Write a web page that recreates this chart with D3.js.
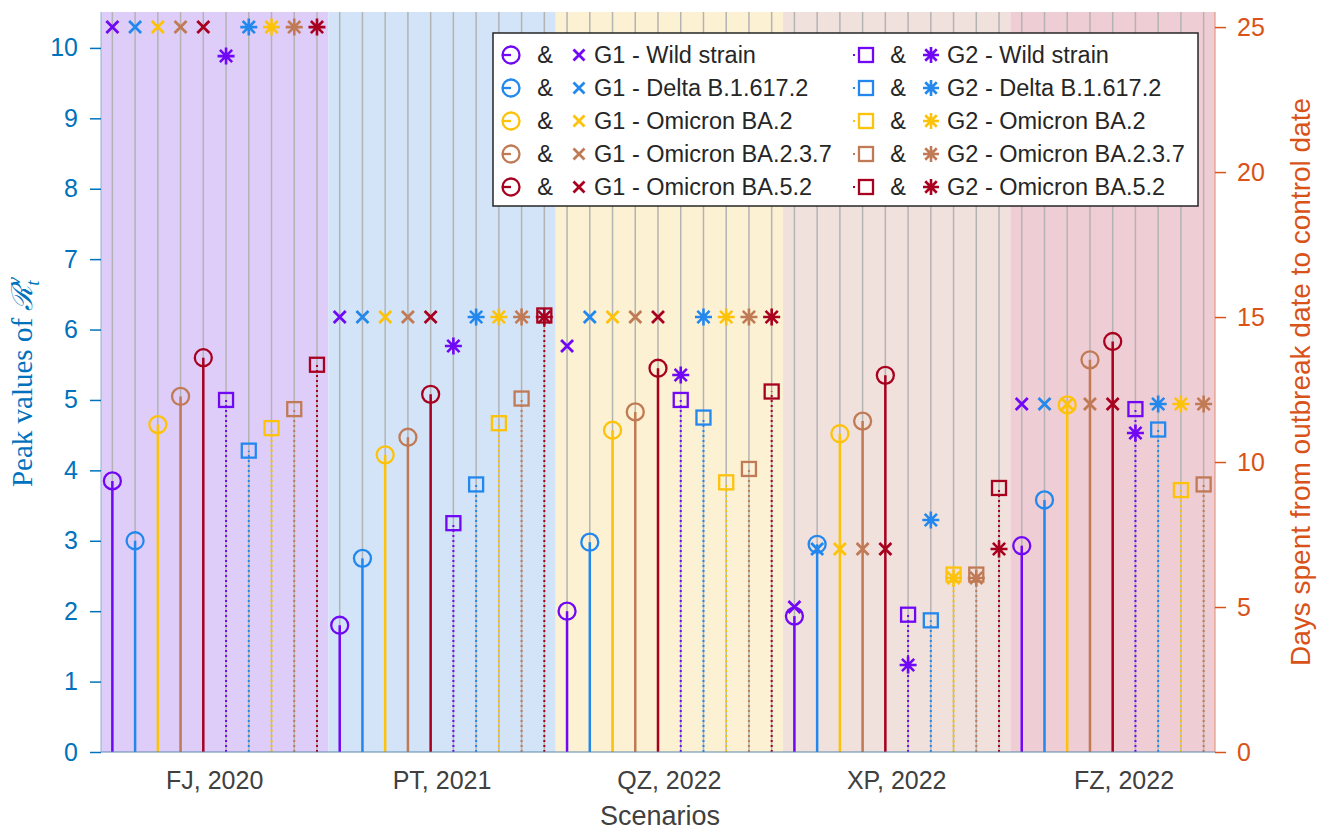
<!DOCTYPE html>
<html lang="en">
  <head>
    <meta charset="UTF-8" />
    <title>Peak values and days to control</title>
    <style>
      body {
        margin: 0;
        background: #fff;
        font-family: "Liberation Sans", Arial, Helvetica, sans-serif;
      }
      svg {
        display: block;
      }
    </style>
  </head>
  <body>
    <script src="https://cdn.jsdelivr.net/npm/d3@7"></script>
    <script>
      // scenarios (groups of 10 stems: 5 G1 + 5 G2)
      var scenarios = ["FJ, 2020", "PT, 2021", "QZ, 2022", "XP, 2022", "FZ, 2022"];
      var variants = ["Wild strain", "Delta B.1.617.2", "Omicron BA.2", "Omicron BA.2.3.7", "Omicron BA.5.2"];

      // peak values of R_t^v (left axis), one row per scenario, one column per variant
      var peakG1 = [
        [3.85, 3.0, 4.65, 5.05, 5.6],
        [1.8, 2.75, 4.22, 4.47, 5.08],
        [2.0, 2.98, 4.57, 4.83, 5.45],
        [1.93, 2.95, 4.52, 4.7, 5.35],
        [2.93, 3.58, 4.93, 5.57, 5.83]
      ];
      var peakG2 = [
        [5.0, 4.28, 4.6, 4.87, 5.5],
        [3.25, 3.8, 4.67, 5.02, 6.2],
        [5.0, 4.75, 3.83, 4.02, 5.12],
        [1.95, 1.87, 2.52, 2.52, 3.75],
        [4.87, 4.58, 3.72, 3.8, null]
      ];

      // days from outbreak date to control date (right axis)
      var daysG1 = [
        [25, 25, 25, 25, 25],
        [15, 15, 15, 15, 15],
        [14, 15, 15, 15, 15],
        [5, 7, 7, 7, 7],
        [12, 12, 12, 12, 12]
      ];
      var daysG2 = [
        [24, 25, 25, 25, 25],
        [14, 15, 15, 15, 15],
        [13, 15, 15, 15, 15],
        [3, 8, 6, 6, 7],
        [11, 12, 12, 12, null]
      ];

      var leftTicks = [0, 1, 2, 3, 4, 5, 6, 7, 8, 9, 10];
      var rightTicks = [0, 5, 10, 15, 20, 25];

      var colors = ["#7108f5", "#2388ee", "#fdc20a", "#c07a55", "#a8001f"];
      var shades = ["#dfcdf9", "#d3e4f8", "#fcf1d2", "#f1e1dc", "#efcdd4"];
      var leftColor = "#0072bd";
      var rightColor = "#d95319";

      var W = 1327, H = 833;
      var plot = { left: 101, right: 1215, top: 12, bottom: 752 };

      var svg = d3.select("body").append("svg").attr("width", W).attr("height", H);

      var x = d3.scaleLinear().domain([0.5, 49.5]).range([plot.left, plot.right]);
      var yL = d3.scaleLinear().domain([0, 10.51]).range([plot.bottom, plot.top]);
      var yR = d3.scaleLinear().domain([0, 25.52]).range([plot.bottom, plot.top]);

      svg.append("clipPath").attr("id", "clip")
        .append("rect")
        .attr("x", plot.left).attr("y", plot.top - 20)
        .attr("width", plot.right - plot.left).attr("height", plot.bottom - plot.top + 20);

      var g = svg.append("g").attr("clip-path", "url(#clip)");

      // background bands per scenario
      g.selectAll("rect.band").data(scenarios).enter().append("rect")
        .attr("class", "band")
        .attr("x", function(d, i) { return x(i * 10 + 0.5); })
        .attr("width", x(10.5) - x(0.5))
        .attr("y", plot.top)
        .attr("height", plot.bottom - plot.top)
        .attr("fill", function(d, i) { return shades[i]; });

      // build flat list of stems
      var stems = [];
      scenarios.forEach(function(s, si) {
        variants.forEach(function(v, vi) {
          stems.push({ k: si * 10 + vi + 1, grp: 1, v: vi, peak: peakG1[si][vi], days: daysG1[si][vi] });
          stems.push({ k: si * 10 + 5 + vi + 1, grp: 2, v: vi, peak: peakG2[si][vi], days: daysG2[si][vi] });
        });
      });

      // vertical grid lines
      g.selectAll("line.grid").data(d3.range(1, 50)).enter().append("line")
        .attr("x1", function(d) { return x(d); })
        .attr("x2", function(d) { return x(d); })
        .attr("y1", plot.top).attr("y2", plot.bottom)
        .attr("stroke", "#b3b3b3").attr("stroke-width", 1.5);

      var shown = stems.filter(function(d) { return d.peak != null; });

      // stems
      g.selectAll("line.stem").data(shown).enter().append("line")
        .attr("x1", function(d) { return x(d.k); })
        .attr("x2", function(d) { return x(d.k); })
        .attr("y1", yL(0))
        .attr("y2", function(d) { return yL(d.peak); })
        .attr("stroke", function(d) { return colors[d.v]; })
        .attr("stroke-width", function(d) { return d.grp == 1 ? 2.5 : 2; })
        .attr("stroke-dasharray", function(d) { return d.grp == 1 ? null : "2,3"; });

      // G1 circles
      g.selectAll("circle.m1").data(shown.filter(function(d) { return d.grp == 1; })).enter().append("circle")
        .attr("cx", function(d) { return x(d.k); })
        .attr("cy", function(d) { return yL(d.peak); })
        .attr("r", 8.5)
        .attr("fill", "none")
        .attr("stroke", function(d) { return colors[d.v]; })
        .attr("stroke-width", 2.3);

      // G2 squares
      g.selectAll("rect.m2").data(shown.filter(function(d) { return d.grp == 2; })).enter().append("rect")
        .attr("x", function(d) { return x(d.k) - 7; })
        .attr("y", function(d) { return yL(d.peak) - 7; })
        .attr("width", 14).attr("height", 14)
        .attr("fill", "none")
        .attr("stroke", function(d) { return colors[d.v]; })
        .attr("stroke-width", 2.3);

      function crossPath(cx, cy, r) {
        return "M" + (cx - r) + "," + (cy - r) + "L" + (cx + r) + "," + (cy + r) +
          "M" + (cx - r) + "," + (cy + r) + "L" + (cx + r) + "," + (cy - r);
      }
      function starPath(cx, cy, r) {
        var d = crossPath(cx, cy, r * 0.72);
        return d + "M" + (cx - r) + "," + cy + "L" + (cx + r) + "," + cy +
          "M" + cx + "," + (cy - r) + "L" + cx + "," + (cy + r);
      }

      // days markers (right axis)
      var dayPts = stems.filter(function(d) { return d.days != null; });
      g.selectAll("path.day").data(dayPts).enter().append("path")
        .attr("d", function(d) {
          return d.grp == 1 ? crossPath(x(d.k), yR(d.days), 6) : starPath(x(d.k), yR(d.days), 8.5);
        })
        .attr("fill", "none")
        .attr("stroke", function(d) { return colors[d.v]; })
        .attr("stroke-width", function(d) { return d.grp == 1 ? 2.8 : 2.6; });

      // axes lines
      svg.append("line")
        .attr("x1", plot.left).attr("x2", plot.right)
        .attr("y1", plot.bottom).attr("y2", plot.bottom)
        .attr("stroke", "#5d86ad").attr("stroke-width", 1);

      var leftAxis = svg.append("g").attr("transform", "translate(" + plot.left + ",0)")
        .call(d3.axisLeft(yL).tickValues(leftTicks).tickSize(11).tickPadding(12).tickFormat(d3.format("d")));
      leftAxis.select(".domain").attr("stroke", "#8fb0d2").attr("stroke-width", 1)
        .attr("d", "M0," + plot.top + "V" + plot.bottom);
      leftAxis.selectAll(".tick line").attr("stroke", leftColor).attr("stroke-width", 1.5);
      leftAxis.selectAll(".tick text").attr("fill", leftColor)
        .style("font-size", "25px").style("font-family", "Liberation Sans, Arial, sans-serif");

      var rightAxis = svg.append("g").attr("transform", "translate(" + plot.right + ",0)")
        .call(d3.axisRight(yR).tickValues(rightTicks).tickSize(11).tickPadding(11).tickFormat(d3.format("d")));
      rightAxis.select(".domain").attr("stroke", "#e08a6a").attr("stroke-width", 1)
        .attr("d", "M0," + plot.top + "V" + plot.bottom);
      rightAxis.selectAll(".tick line").attr("stroke", rightColor).attr("stroke-width", 1.5);
      rightAxis.selectAll(".tick text").attr("fill", rightColor)
        .style("font-size", "25px").style("font-family", "Liberation Sans, Arial, sans-serif");

      // x tick labels at scenario centres
      svg.selectAll("text.xlab").data(scenarios).enter().append("text")
        .attr("x", function(d, i) { return x(i * 10 + 5.5); })
        .attr("y", 789)
        .attr("text-anchor", "middle")
        .attr("fill", "#404040")
        .style("font-size", "25px")
        .text(function(d) { return d; });

      svg.append("text")
        .attr("x", 660).attr("y", 825)
        .attr("text-anchor", "middle")
        .attr("fill", "#404040")
        .style("font-size", "27px")
        .text("Scenarios");

      // left label (LaTeX-like)
      var ll = svg.append("text")
        .attr("transform", "translate(32," + 382 + ") rotate(-90)")
        .attr("text-anchor", "middle")
        .attr("fill", leftColor)
        .style("font-family", "Liberation Serif, DejaVu Serif, serif")
        .style("font-size", "29px");
      ll.append("tspan").text("Peak values of ");
      ll.append("tspan").style("font-style", "italic").text("\u211B");
      ll.append("tspan").attr("dy", 7).style("font-size", "19px").style("font-style", "italic").text("t");
      ll.append("tspan").attr("dy", -19).attr("dx", -5).style("font-size", "19px").style("font-style", "italic").text("v");

      svg.append("text")
        .attr("transform", "translate(1310," + 382 + ") rotate(-90)")
        .attr("text-anchor", "middle")
        .attr("fill", rightColor)
        .style("font-size", "28px")
        .text("Days spent from outbreak date to control date");

      // legend
      var leg = svg.append("g");
      leg.append("rect")
        .attr("x", 493).attr("y", 33).attr("width", 705).attr("height", 173)
        .attr("fill", "#fff").attr("stroke", "#262626").attr("stroke-width", 1.5);

      variants.forEach(function(v, i) {
        var ry = 55 + i * 33;
        var c = colors[i];
        // column 1
        leg.append("circle").attr("cx", 511).attr("cy", ry).attr("r", 8.5)
          .attr("fill", "none").attr("stroke", c).attr("stroke-width", 2.3);
        leg.append("line").attr("x1", 502).attr("x2", 511).attr("y1", ry).attr("y2", ry)
          .attr("stroke", c).attr("stroke-width", 2.3);
        leg.append("text").attr("x", 545).attr("y", ry + 8).attr("text-anchor", "middle")
          .attr("fill", "#262626").style("font-size", "23.5px").text("&");
        leg.append("path").attr("d", crossPath(579, ry, 5.5))
          .attr("stroke", c).attr("stroke-width", 2.8).attr("fill", "none");
        leg.append("text").attr("x", 594).attr("y", ry + 8)
          .attr("fill", "#262626").style("font-size", "23.5px").text("G1 - " + v);
        // column 2
        leg.append("line").attr("x1", 853).attr("x2", 859).attr("y1", ry).attr("y2", ry)
          .attr("stroke", c).attr("stroke-width", 2).attr("stroke-dasharray", "2,3");
        leg.append("rect").attr("x", 859).attr("y", ry - 7).attr("width", 14).attr("height", 14)
          .attr("fill", "none").attr("stroke", c).attr("stroke-width", 2.3);
        leg.append("text").attr("x", 898).attr("y", ry + 8).attr("text-anchor", "middle")
          .attr("fill", "#262626").style("font-size", "23.5px").text("&");
        leg.append("path").attr("d", starPath(931, ry, 8))
          .attr("stroke", c).attr("stroke-width", 2.6).attr("fill", "none");
        leg.append("text").attr("x", 947).attr("y", ry + 8)
          .attr("fill", "#262626").style("font-size", "23.5px").text("G2 - " + v);
      });
    </script>
  </body>
</html>
